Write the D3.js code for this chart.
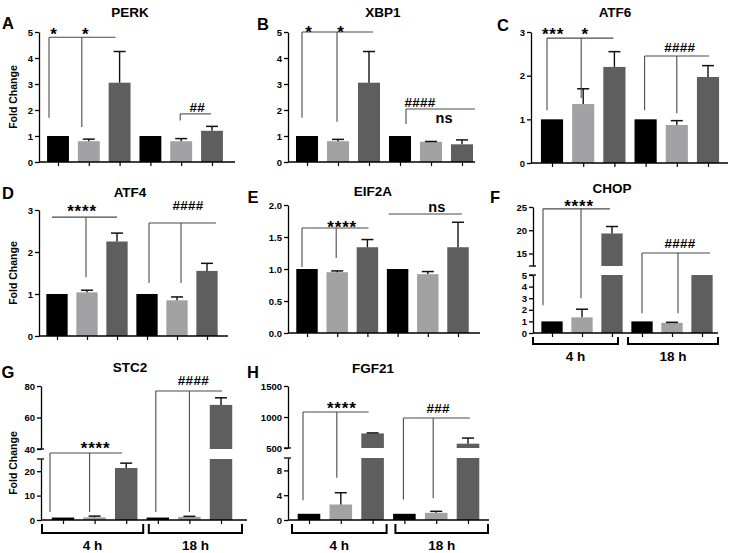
<!DOCTYPE html>
<html><head><meta charset="utf-8">
<script src="https://cdn.jsdelivr.net/npm/d3@7"></script>
<style>
body{margin:0;background:#fff}
text{font-family:Arial,"Liberation Sans",sans-serif;font-weight:bold;fill:#000}
</style>
</head><body>
<svg id="chart" width="732" height="553"></svg>
<script>
// ---------- DATA ----------
const categories = ["4 h-1","4 h-2","4 h-3","18 h-1","18 h-2","18 h-3"];
const groups = ["4 h","18 h"];
const barColors = ["#000000","#a2a2a5","#5e5e5e","#000000","#a2a2a5","#5e5e5e"];

const perkMean  = [1.0, 0.80, 3.05, 1.0, 0.80, 1.20];
const perkSem   = [0,   0.08, 1.20, 0,   0.10, 0.17];
const xbp1Mean  = [1.0, 0.80, 3.05, 1.0, 0.78, 0.68];
const xbp1Sem   = [0,   0.07, 1.20, 0,   0.01, 0.17];
const atf6Mean  = [1.0, 1.35, 2.20, 1.0, 0.87, 1.97];
const atf6Sem   = [0,   0.35, 0.35, 0,   0.10, 0.26];
const atf4Mean  = [1.0, 1.04, 2.25, 1.0, 0.85, 1.55];
const atf4Sem   = [0,   0.05, 0.20, 0,   0.08, 0.18];
const eif2aMean = [1.0, 0.95, 1.34, 1.0, 0.92, 1.34];
const eif2aSem  = [0,   0.02, 0.12, 0,   0.04, 0.39];
const chopMean  = [1.0, 1.35, 19.3, 1.0, 0.88, 8.0];
const chopSem   = [0,   0.70, 1.50, 0,   0.04, 0];
const stc2Mean  = [1.0, 1.10, 21.3, 1.0, 1.30, 68.0];
const stc2Sem   = [0,   0.50, 2.00, 0,   0.20, 4.5];
const fgf21Mean = [1.0, 2.50, 735, 1.0, 1.15, 570];
const fgf21Sem  = [0,   1.90, 8,   0,   0.25, 90];

const ticks0to5 = [0,1,2,3,4,5];
const ticks0to3 = [0,1,2,3];
const ticksEif2a = [0,0.5,1.0,1.5,2.0];
const ticksChopLow = [0,1,2,3,4,5], ticksChopHigh = [15,20,25];
const ticksStc2Low = [0,10,20], ticksStc2High = [40,60,80];
const ticksFgf21Low = [0,4,8], ticksFgf21High = [500,1000,1500];

// ---------- LAYOUT ----------
const panels = [
 {title:"PERK", letter:"A", mean:perkMean, sem:perkSem, ax:39, axEnd:235, c0:58, c5:212,
  segs:[{d:[0,5], r:[162,32], ticks:ticks0to5}], titlePos:[130,12], letterPos:[8,23], ylab:[13,97],
  anns:[{level:4.8, x1:{i:0,dx:-9}, x2:{i:2,dx:-4}, legs:[{i:0,dx:-9,from:1.7},{i:1,dx:-7,from:1.35}], labels:[{t:"*",i:0,dx:-4,off:7},{t:"*",i:1,dx:-3,off:7}]},
        {level:1.85, x1:{i:4,dx:-1}, x2:{i:5,dx:-1}, legs:[{i:4,dx:-1,from:1.6}], labels:[{t:"##",i:4,dx:16,off:7}]}]},
 {title:"XBP1", letter:"B", mean:xbp1Mean, sem:xbp1Sem, ax:288, axEnd:475, c0:307, c5:462,
  segs:[{d:[0,5], r:[162,32], ticks:ticks0to5}], titlePos:[383,12], letterPos:[263,24],
  anns:[{level:5.0, x1:{i:0,dx:-5}, x2:{i:2,dx:4}, legs:[{i:0,dx:-5,from:1.7},{i:1,dx:-1,from:1.55}], labels:[{t:"*",i:0,dx:2,off:4},{t:"*",i:1,dx:3,off:4}]},
        {level:2.04, x1:{i:3,dx:6}, x2:{i:5,dx:13}, legs:[{i:3,dx:6,from:1.46}], labels:[{t:"####",i:3,dx:20,off:7}]},
        {level:1.65, labels:[{t:"ns",i:4,dx:13,off:0}]}]},
 {title:"ATF6", letter:"C", mean:atf6Mean, sem:atf6Sem, ax:531, axEnd:728, c0:552, c5:708,
  segs:[{d:[0,3], r:[163,32], ticks:ticks0to3}], titlePos:[615,12], letterPos:[503,25],
  anns:[{level:2.86, x1:{i:0,dx:-5}, x2:{i:2,dx:-1}, legs:[{i:0,dx:-5,from:1.21},{i:1,dx:-2,from:1.49}], labels:[{t:"***",i:0,dx:1,off:8},{t:"*",i:1,dx:2,off:8}]},
        {level:2.45, x1:{i:3,dx:-1}, x2:{i:5,dx:1}, legs:[{i:3,dx:-1,from:1.21},{i:4,dx:0,from:1.14}], labels:[{t:"####",i:4,dx:3,off:9}]}]},
 {title:"ATF4", letter:"D", mean:atf4Mean, sem:atf4Sem, ax:39, axEnd:228, c0:57, c5:207,
  segs:[{d:[0,3], r:[336,210], ticks:ticks0to3}], titlePos:[130,192], letterPos:[8,193], ylab:[13,273],
  anns:[{level:2.83, x1:{i:0,dx:-5}, x2:{i:2,dx:0}, legs:[{i:1,dx:-1,from:1.4}], labels:[{t:"****",i:1,dx:-5,off:10}]},
        {level:2.69, x1:{i:3,dx:2}, x2:{i:5,dx:9}, legs:[{i:3,dx:2,from:1.26},{i:4,dx:4,from:1.26}], labels:[{t:"####",i:4,dx:11,off:18}]}]},
 {title:"EIF2A", letter:"E", mean:eif2aMean, sem:eif2aSem, ax:288, axEnd:480, c0:307, c5:458,
  segs:[{d:[0,2], r:[333,205], ticks:ticksEif2a, fmt:".1f"}], titlePos:[373,191], letterPos:[253,197],
  anns:[{level:1.64, x1:{i:0,dx:-5}, x2:{i:2,dx:1}, legs:[{i:0,dx:-5,from:1.03},{i:1,dx:-1,from:1.17}], labels:[{t:"****",i:1,dx:5,off:5}]},
        {level:1.86, x1:{i:3,dx:-9}, x2:{i:5,dx:4}, legs:[], labels:[{t:"ns",i:4,dx:9,off:6}]}]},
 {title:"CHOP", letter:"F", mean:chopMean, sem:chopSem, ax:533, axEnd:718, c0:552, c5:702,
  segs:[{d:[0,5], r:[333,275], ticks:ticksChopLow},{d:[12.3,25], r:[266,207], ticks:ticksChopHigh}], titlePos:[612,188], letterPos:[495,197],
  brackets:[{from:{i:0,dx:-19}, to:{i:2,dx:6}},{from:{i:3,dx:-14}, to:{i:5,dx:16}}], brDepth:[4,11],
  anns:[{level:24.6, x1:{i:0,dx:-9}, x2:{i:2,dx:-2}, legs:[{i:0,dx:-9,from:2.4},{i:1,dx:-1,from:3.0}], labels:[{t:"****",i:1,dx:-3,off:6}]},
        {level:15.1, x1:{i:3,dx:0}, x2:{i:5,dx:8}, legs:[{i:3,dx:0,from:1.7},{i:4,dx:6,from:1.7}], labels:[{t:"####",i:4,dx:8,off:10}]}]},
 {title:"STC2", letter:"G", mean:stc2Mean, sem:stc2Sem, ax:41, axEnd:247, c0:63, c5:221,
  segs:[{d:[0,25], r:[520,459], ticks:ticksStc2Low},{d:[40,80], r:[449,386], ticks:ticksStc2High}], titlePos:[130,367], letterPos:[8,372], ylab:[13,463],
  brackets:[{from:{i:0,dx:-21}, to:{i:2,dx:17}},{from:{i:3,dx:-9}, to:{i:5,dx:21}}], brDepth:[4,13],
  anns:[{level:34, x1:{i:0,dx:-13}, x2:{i:2,dx:-4}, legs:[{i:0,dx:-13,from:3.3},{i:1,dx:-5,from:3.3}], labels:[{t:"****",i:1,dx:1,off:9}]},
        {level:76.8, x1:{i:3,dx:-2}, x2:{i:5,dx:1}, legs:[{i:3,dx:-2,from:3.3},{i:4,dx:0,from:3.3}], labels:[{t:"####",i:4,dx:4,off:11}]}]},
 {title:"FGF21", letter:"H", mean:fgf21Mean, sem:fgf21Sem, ax:288, axEnd:489, c0:309, c5:468,
  segs:[{d:[0,10], r:[520,458], ticks:ticksFgf21Low},{d:[500,1500], r:[448,386], ticks:ticksFgf21High}], titlePos:[373,368], letterPos:[253,372],
  brackets:[{from:{i:0,dx:-17}, to:{i:2,dx:14}},{from:{i:3,dx:-9}, to:{i:5,dx:20}}], brDepth:[4,13],
  anns:[{level:1080, x1:{i:0,dx:-6}, x2:{i:2,dx:-4}, legs:[{i:0,dx:-6,from:3.2},{i:1,dx:-4,from:6.8}], labels:[{t:"****",i:1,dx:1,off:8}]},
        {level:984, x1:{i:3,dx:-1}, x2:{i:5,dx:2}, legs:[{i:3,dx:-1,from:3.3},{i:4,dx:-3,from:3.5}], labels:[{t:"###",i:4,dx:2,off:10}]}]}
];

const svg = d3.select("#chart");
const annColor = "#4a4a4a";

function makeY(segs){
  const sc = segs.map(s => d3.scaleLinear().domain(s.d).range(s.r));
  const f = v => {
    for (let k=0;k<segs.length;k++) if (v>=segs[k].d[0] && v<=segs[k].d[1]) return sc[k](v);
    for (let k=0;k<segs.length-1;k++) if (v>segs[k].d[1] && v<segs[k+1].d[0]) {
      const t=(v-segs[k].d[1])/(segs[k+1].d[0]-segs[k].d[1]);
      return segs[k].r[1] + t*(segs[k+1].r[0]-segs[k].r[1]);
    }
    return v>segs[segs.length-1].d[1] ? sc[segs.length-1](v) : sc[0](v);
  };
  f.scales = sc;
  return f;
}

function labelShift(t, fs){
  if (t[0]==="*") return 0.56*fs;
  if (t[0]==="#") return 0.36*fs;
  return 0.27*fs;
}

panels.forEach(p => {
  const g = svg.append("g");
  const x = d3.scalePoint().domain(categories).range([p.c0, p.c5]);
  const step = x.step();
  const bw = step*0.71;
  const y = makeY(p.segs);
  const y0 = p.segs[0].r[0];
  const xp = o => x(categories[o.i]) + o.dx;

  // bars (piecewise for broken axes)
  p.segs.forEach((s, k) => {
    const sc = y.scales[k];
    g.append("g").selectAll("rect").data(categories.filter((c,i)=>p.mean[i] > s.d[0]))
      .join("rect")
      .attr("x", c => x(c) - bw/2)
      .attr("width", bw)
      .attr("y", c => sc(Math.min(p.mean[categories.indexOf(c)], s.d[1])))
      .attr("height", c => sc(s.d[0]) - sc(Math.min(p.mean[categories.indexOf(c)], s.d[1])))
      .attr("fill", c => barColors[categories.indexOf(c)]);
  });

  // error bars
  categories.forEach((c,i) => {
    if (!(p.sem[i] > 0)) return;
    const top = p.mean[i] + p.sem[i];
    const yt = y(top), ym = y(p.mean[i]);
    const cx = x(c), cw = 6;
    g.append("line").attr("x1",cx).attr("x2",cx).attr("y1",ym).attr("y2",yt)
      .attr("stroke","#111").attr("stroke-width",1.4);
    g.append("line").attr("x1",cx-cw).attr("x2",cx+cw).attr("y1",yt).attr("y2",yt)
      .attr("stroke","#111").attr("stroke-width",1.5);
  });

  // y axis segments
  p.segs.forEach((s,k) => {
    const ax = d3.axisLeft(y.scales[k]).tickValues(s.ticks).tickSize(4).tickSizeOuter(0).tickPadding(2);
    if (s.fmt) ax.tickFormat(d3.format(s.fmt)); else ax.tickFormat(d3.format("d"));
    const ag = g.append("g").attr("transform",`translate(${p.ax},0)`).call(ax);
    ag.select(".domain").attr("stroke","#000").attr("stroke-width",1.3);
    ag.selectAll(".tick line").attr("stroke","#000").attr("stroke-width",1.3);
    ag.selectAll(".tick text").attr("font-size",9.5).attr("font-family","Arial, 'Liberation Sans', sans-serif").attr("font-weight","bold");
    if (p.segs.length>1) {
      const ends = [];
      if (k>0) ends.push(s.r[0]);
      if (k<p.segs.length-1) ends.push(s.r[1]);
      ends.forEach(ey => g.append("line").attr("x1",p.ax-4).attr("x2",p.ax+3).attr("y1",ey).attr("y2",ey)
        .attr("stroke","#000").attr("stroke-width",1.3));
    }
  });

  // x axis
  g.append("line").attr("x1",p.ax).attr("x2",p.axEnd).attr("y1",y0).attr("y2",y0)
    .attr("stroke","#000").attr("stroke-width",1.3);
  const xa = d3.axisBottom(x).tickSize(4).tickFormat("");
  const xg = g.append("g").attr("transform",`translate(0,${y0})`).call(xa);
  xg.select(".domain").remove();
  xg.selectAll(".tick line").attr("stroke","#000").attr("stroke-width",1.2);

  // group brackets
  if (p.brackets) {
    p.brackets.forEach((b,bi) => {
      const xa1 = xp(b.from), xa2 = xp(b.to);
      const ya = y0 + p.brDepth[0], yb = y0 + p.brDepth[1];
      g.append("path").attr("d",`M${xa1},${ya}V${yb}H${xa2}V${ya}`)
        .attr("fill","none").attr("stroke","#000").attr("stroke-width",2);
      g.append("text").attr("x",(xa1+xa2)/2).attr("y",yb+17).attr("text-anchor","middle")
        .attr("font-size",13.5).text(groups[bi]);
    });
  }

  // significance annotations
  p.anns.forEach(a => {
    const ly = y(a.level);
    if (a.x1) {
      g.append("line").attr("x1",xp(a.x1)).attr("x2",xp(a.x2)).attr("y1",ly).attr("y2",ly)
        .attr("stroke",annColor).attr("stroke-width",1.1);
      a.legs.forEach(l => g.append("line").attr("x1",xp(l)).attr("x2",xp(l)).attr("y1",y(l.from)).attr("y2",ly)
        .attr("stroke",annColor).attr("stroke-width",1.1));
    }
    a.labels.forEach(lb => {
      const isStar = lb.t[0]==="*", isHash = lb.t[0]==="#";
      const fs = isStar ? 17 : (isHash ? 13.5 : 14.5);
      g.append("text").attr("x", xp(lb))
        .attr("y", ly - lb.off + labelShift(lb.t, fs))
        .attr("font-size", fs)
        .attr("letter-spacing", isStar ? 0.8 : (isHash ? 0.3 : 0))
        .attr("text-anchor","middle").attr("fill","#222").text(lb.t);
    });
  });

  // title, letter, y label
  g.append("text").attr("x",p.titlePos[0]).attr("y",p.titlePos[1]+5).attr("text-anchor","middle")
    .attr("font-size",13.5).text(p.title);
  g.append("text").attr("x",p.letterPos[0]).attr("y",p.letterPos[1]+6).attr("text-anchor","middle")
    .attr("font-size",16.5).text(p.letter);
  if (p.ylab) {
    g.append("text").attr("transform",`translate(${p.ylab[0]+4},${p.ylab[1]}) rotate(-90)`)
      .attr("text-anchor","middle").attr("font-size",10.5).text("Fold Change");
  }
});
</script>
</body></html>
